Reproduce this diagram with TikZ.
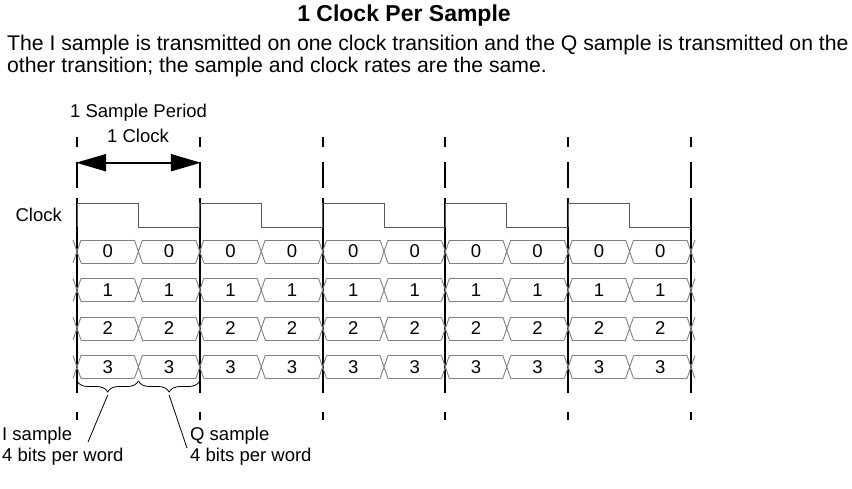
\documentclass[tikz,border=0pt]{standalone}
\usepackage{fontspec}
\setmainfont{Liberation Sans}
\usetikzlibrary{arrows.meta, positioning, calc, decorations.pathreplacing}

\begin{document}
\begin{tikzpicture}[x=1pt, y=-1pt,
    font=\fontsize{18.5}{21.5}\selectfont,
    heading/.style={inner sep=0pt, anchor=base, font=\fontsize{23}{26}\selectfont\bfseries},
    body/.style={inner sep=0pt, anchor=base west, font=\fontsize{21.2}{24}\selectfont},
    txt/.style={inner sep=0pt, anchor=base west, align=left},
    digit/.style={inner sep=0pt, font=\fontsize{18.5}{20}\selectfont},
    bus/.style={draw=black!50, line width=0.9pt},
    clkwave/.style={draw=black!65, line width=0.9pt},
    marker/.style={line width=2pt,
      dash pattern=on 10pt off 15pt on 26pt off 10pt on 195pt off 19pt on 8pt},
    dblarr/.style={{Triangle[length=30pt,width=17pt]}-{Triangle[length=30pt,width=17pt]},
      line width=2pt, shorten <=-1pt, shorten >=-1pt},
    callout/.style={line width=0.8pt},
    brc/.style={decorate, decoration={brace, mirror, amplitude=11pt}, line width=0.8pt}
  ]
  \useasboundingbox (0,0) rectangle (852,488);

  % heading and description
  \node[heading] (title) at (404,21.7) {1 Clock Per Sample};
  \node[body] (desc1) at (7,50.7) {The I sample is transmitted on one clock transition and the Q sample is transmitted on the};
  \node[body] (desc2) at (7,72) {other transition; the sample and clock rates are the same.};

  % period markers
  \foreach \k in {0,...,5} {
    \coordinate (top\k) at (77+122.8*\k,137);
    \coordinate (bot\k) at (77+122.8*\k,420);
    \draw[marker] (top\k) -- (bot\k);
  }
  \node[txt] (period) at (70,117.3) {1 Sample Period};
  \node[txt] (oneclk) at (107,142.7) {1 Clock};
  \coordinate (arrl) at (77,162.7);
  \coordinate (arrr) at (199.8,162.7);
  \draw[dblarr] (arrl) -- (arrr);

  % clock
  \node[inner sep=0pt, anchor=base east] (clklbl) at (62,221.7) {Clock};
  \foreach \k in {0,...,4}
    \draw[clkwave] (77+122.8*\k,227) -- (77+122.8*\k,203) -- (138.4+122.8*\k,203)
      -- (138.4+122.8*\k,227) -- (199.8+122.8*\k,227);

  % data bits
  \foreach \r in {0,...,3} {
    \pgfmathsetmacro{\yt}{240+38.5*\r}
    \foreach \k in {0,...,10}
      \draw[bus] (73+61.4*\k,\yt) -- (81+61.4*\k,\yt+23)
                 (73+61.4*\k,\yt+23) -- (81+61.4*\k,\yt);
    \foreach \k in {0,...,9} {
      \draw[bus] (81+61.4*\k,\yt) -- (134.4+61.4*\k,\yt)
                 (81+61.4*\k,\yt+23) -- (134.4+61.4*\k,\yt+23);
      \node[digit] (d\r-\k) at (107.7+61.4*\k,\yt+11.5) {\r};
    }
  }

  % I / Q braces
  \coordinate (bi0) at (77,381);
  \coordinate (bi1) at (138.4,381);
  \coordinate (bq1) at (199.8,381);
  \draw[brc] (bi0) -- (bi1) coordinate[midway, yshift=-14pt] (itip);
  \draw[brc] (bi1) -- (bq1) coordinate[midway, yshift=-14pt] (qtip);
  \node[txt] (isamp) at (2,461.7) {I sample\\4 bits per word};
  \node[txt] (qsamp) at (190,461.7) {Q sample\\4 bits per word};
  \coordinate (iend) at (88,442);
  \coordinate (qend) at (187,448);
  \draw[callout] (itip) -- (iend);
  \draw[callout] (qtip) -- (qend);
\end{tikzpicture}
\end{document}
